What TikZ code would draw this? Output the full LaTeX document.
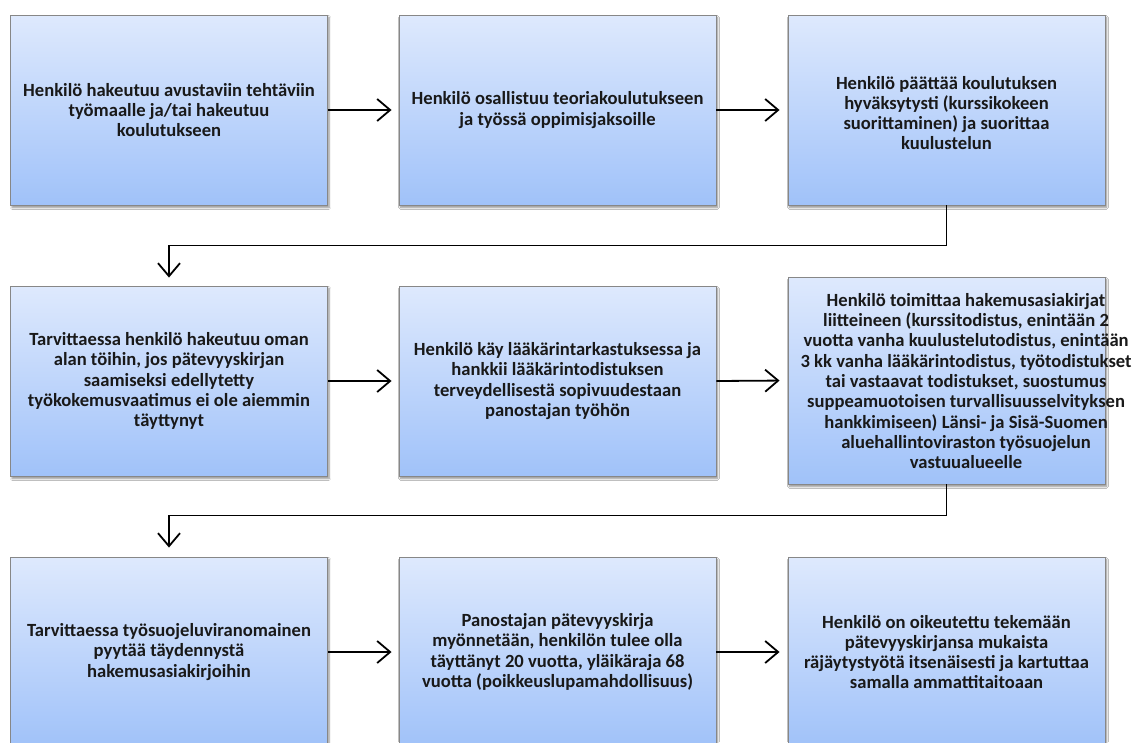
\documentclass[tikz,border=0pt]{standalone}
\usepackage{fontspec}
\setmainfont{Carlito}
\usetikzlibrary{arrows.meta,shadows.blur}
\definecolor{boxtop}{RGB}{222,233,253}
\definecolor{boxbot}{RGB}{160,194,249}
\definecolor{boxline}{RGB}{135,135,135}
\definecolor{txt}{RGB}{25,25,25}
\tikzset{
  flowbox/.style={rectangle, draw=boxline, line width=0.9pt,
    top color=boxtop, bottom color=boxbot,
    minimum width=317pt, minimum height=190pt, inner sep=0pt,
    blur shadow={shadow xshift=1.5pt, shadow yshift=-2.5pt, shadow blur steps=6, shadow opacity=45}},
  boxtext/.style={align=center, text=txt, font=\fontsize{18.6}{20.3}\selectfont\bfseries, inner sep=0pt},
  conn/.style={draw=black, line width=1.8pt, -{Straight Barb[length=13pt,width=22pt,line width=1.8pt]}},
}
\begin{document}
\begin{tikzpicture}[x=1pt,y=-1pt]
\useasboundingbox (0,0) rectangle (1135,742);
\fill[white] (0,0) rectangle (1135,742);
% row 1
\node[flowbox] (b1) at (169,110) {};
\node[flowbox] (b2) at (557.5,110) {};
\node[flowbox] (b3) at (946.5,110) {};
% row 2
\node[flowbox] (b4) at (169,381) {};
\node[flowbox] (b5) at (557.5,381) {};
\node[flowbox, minimum height=207pt] (b6) at (946.5,380.5) {};
% row 3
\node[flowbox] (b7) at (169,652) {};
\node[flowbox] (b8) at (557.5,652) {};
\node[flowbox] (b9) at (946.5,652) {};
% texts
\node[boxtext] (t1) at (b1.center) {Henkilö hakeutuu avustaviin tehtäviin\\työmaalle ja/tai hakeutuu\\koulutukseen};
\node[boxtext] (t2) at (b2.center) {Henkilö osallistuu teoriakoulutukseen\\ja työssä oppimisjaksoille};
\node[boxtext] (t3) at ([yshift=-3pt]b3.center) {Henkilö päättää koulutuksen\\hyväksytysti (kurssikokeen\\suorittaminen) ja suorittaa\\kuulustelun};
\node[boxtext] (t4) at (b4.center) {Tarvittaessa henkilö hakeutuu oman\\alan töihin, jos pätevyyskirjan\\saamiseksi edellytetty\\työkokemusvaatimus ei ole aiemmin\\täyttynyt};
\node[boxtext] (t5) at (b5.center) {Henkilö käy lääkärintarkastuksessa ja\\hankkii lääkärintodistuksen\\terveydellisestä sopivuudestaan\\panostajan työhön};
\node[boxtext] (t6) at (966,381) {Henkilö toimittaa hakemusasiakirjat\\liitteineen (kurssitodistus, enintään 2\\vuotta vanha kuulustelutodistus, enintään\\3 kk vanha lääkärintodistus, työtodistukset\\tai vastaavat todistukset, suostumus\\suppeamuotoisen turvallisuusselvityksen\\hankkimiseen) Länsi- ja Sisä-Suomen\\aluehallintoviraston työsuojelun\\vastuualueelle};
\node[boxtext] (t7) at (b7.center) {Tarvittaessa työsuojeluviranomainen\\pyytää täydennystä\\hakemusasiakirjoihin};
\node[boxtext] (t8) at (b8.center) {Panostajan pätevyyskirja\\myönnetään, henkilön tulee olla\\täyttänyt 20 vuotta, yläikäraja 68\\vuotta (poikkeuslupamahdollisuus)};
\node[boxtext] (t9) at (b9.center) {Henkilö on oikeutettu tekemään\\pätevyyskirjansa mukaista\\räjäytystyötä itsenäisesti ja kartuttaa\\samalla ammattitaitoaan};
% connectors
\draw[conn, shorten >=7pt] (b1.east) -- (b2.west);
\draw[conn, shorten >=8pt] (b2.east) -- (b3.west);
\draw[conn, shorten >=8pt] (b3.south) -- ++(0,40) -| (b4.north);
\draw[conn, shorten >=7pt] (b4.east) -- (b5.west);
\draw[conn, shorten >=8pt] (b5.east) -- (b6.west);
\draw[conn, shorten >=9pt] (b6.south) -- ++(0,31) -| (b7.north);
\draw[conn, shorten >=7pt] (b7.east) -- (b8.west);
\draw[conn, shorten >=8pt] (b8.east) -- (b9.west);
\end{tikzpicture}
\end{document}
